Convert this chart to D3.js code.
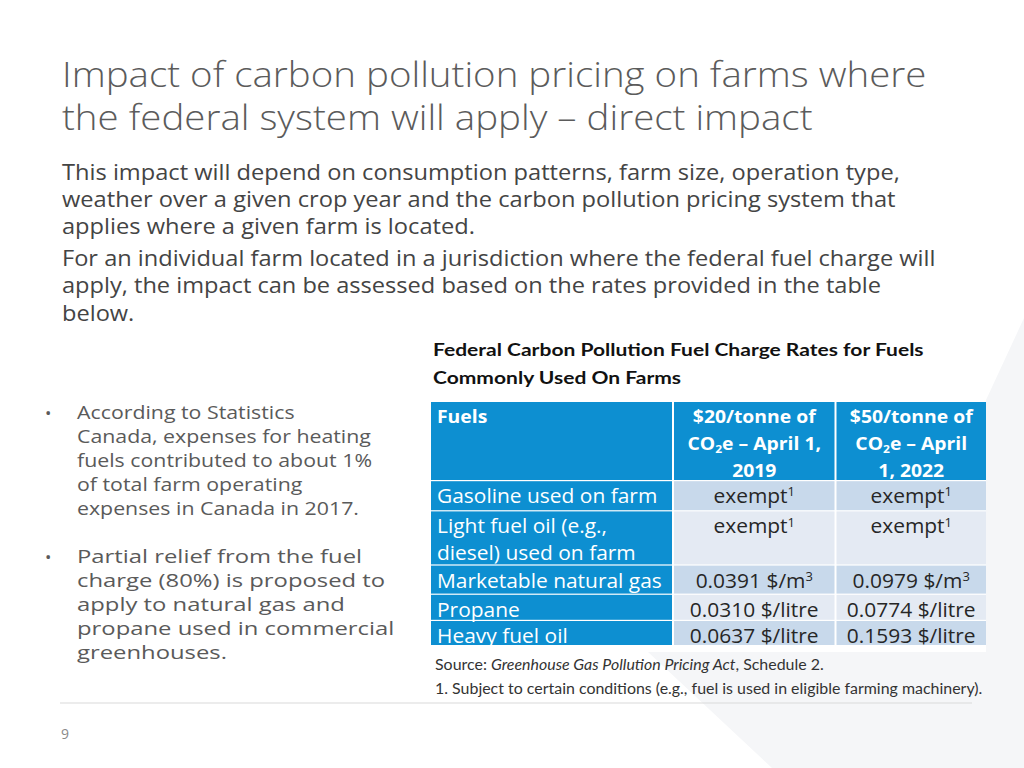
<!DOCTYPE html>
<html>
<head>
<meta charset="utf-8">
<script src="https://cdn.jsdelivr.net/npm/d3@7"></script>
<style>
  html, body { margin: 0; padding: 0; background: #fff; }
  svg { display: block; }
</style>
</head>
<body>
<svg id="slide" width="1024" height="768"></svg>
<script>
const svg = d3.select("#slide");

// ---- content ----
const titleLines = [
  "Impact of carbon pollution pricing on farms where",
  "the federal system will apply – direct impact"
];
const introLines = [
  "This impact will depend on consumption patterns, farm size, operation type,",
  "weather over a given crop year and the carbon pollution pricing system that",
  "applies where a given farm is located."
];
const introLines2 = [
  "For an individual farm located in a jurisdiction where the federal fuel charge will",
  "apply, the impact can be assessed based on the rates provided in the table",
  "below."
];
const captionLines = [
  "Federal Carbon Pollution Fuel Charge Rates for Fuels",
  "Commonly Used On Farms"
];
const bullets = [
  ["According to Statistics", "Canada, expenses for heating", "fuels contributed to about 1%",
   "of total farm operating", "expenses in Canada in 2017."],
  ["Partial relief from the fuel", "charge (80%) is proposed to", "apply to natural gas and",
   "propane used in commercial", "greenhouses."]
];
const headers = [
  ["Fuels"],
  ["$20/tonne of", "CO_2e – April 1,", "2019"],
  ["$50/tonne of", "CO_2e – April", "1, 2022"]
];
const fuels = [
  ["Gasoline used on farm"],
  ["Light fuel oil (e.g.,", "diesel) used on farm"],
  ["Marketable natural gas"],
  ["Propane"],
  ["Heavy fuel oil"]
];
const rates2019 = ["exempt^1", "exempt^1", "0.0391 $/m^3", "0.0310 $/litre", "0.0637 $/litre"];
const rates2022 = ["exempt^1", "exempt^1", "0.0979 $/m^3", "0.0774 $/litre", "0.1593 $/litre"];
const notes = [
  "Source: *Greenhouse Gas Pollution Pricing Act*, Schedule 2.",
  "1. Subject to certain conditions (e.g., fuel is used in eligible farming machinery)."
];
const pageNumber = "9";

// ---- style ----
const gothic = "'Open Sans', 'DejaVu Sans', sans-serif";
const calibri = "Lato, 'Liberation Sans', sans-serif";
const blue = "#0d8fd1";
const rowFills = ["#c8d9eb", "#e4eaf3"];

// rich text: _2 subscript, ^1 superscript, *...* italic
function rich(textSel, str, size) {
  const parts = str.split(/(_\d|\^\d|\*[^*]+\*)/).filter(s => s.length);
  parts.forEach(p => {
    if (p[0] === "_" || p[0] === "^") {
      textSel.append("tspan")
        .attr("font-size", size * 0.62)
        .attr("baseline-shift", p[0] === "_" ? "-22%" : "55%")
        .text(p.slice(1));
    } else if (p[0] === "*") {
      textSel.append("tspan").attr("font-style", "italic").text(p.slice(1, -1));
    } else {
      textSel.append("tspan").text(p);
    }
  });
}

// stretch a block horizontally so that one reference line spans the target width
function fitBlock(g, refNode, x0, targetWidth) {
  const w = refNode.getComputedTextLength();
  const sx = targetWidth / w;
  g.attr("transform", `translate(${x0},0) scale(${sx},1) translate(${-x0},0)`);
}

// ---- background shape ----
svg.append("polygon")
  .attr("points", [[1024, 318], [986, 400], [986, 652], [648, 652], [772, 768], [1024, 768]].join(" "))
  .attr("fill", "#f5f6f8");

// ---- title ----
const gTitle = svg.append("g");
const titleText = gTitle.selectAll("text").data(titleLines).join("text")
  .attr("x", 62).attr("y", (d, i) => 87 + i * 43)
  .attr("font-family", gothic).attr("font-weight", 300).attr("font-size", 35)
  .attr("fill", "#5b5b5b").text(d => d);
fitBlock(gTitle, titleText.nodes()[0], 62, 865);

// ---- intro ----
function paragraph(lines, y0, lh, size, color, x0, refIdx, refW, family) {
  const g = svg.append("g");
  const t = g.selectAll("text").data(lines).join("text")
    .attr("x", x0).attr("y", (d, i) => y0 + i * lh)
    .attr("font-family", family || gothic).attr("font-size", size)
    .attr("fill", color).text(d => d);
  fitBlock(g, t.nodes()[refIdx], x0, refW);
  return g;
}
paragraph(introLines, 180, 27, 21, "#444", 62, 0, 838);
paragraph(introLines2, 266, 27.5, 21, "#444", 62, 0, 874);

// ---- caption ----
const gCap = svg.append("g");
const capText = gCap.selectAll("text").data(captionLines).join("text")
  .attr("x", 433).attr("y", (d, i) => 356 + i * 28)
  .attr("font-family", calibri).attr("font-weight", 700).attr("font-size", 18)
  .attr("fill", "#111").text(d => d);
fitBlock(gCap, capText.nodes()[0], 433, 491);

// ---- bullets ----
const bulletRefs = [[1, 294], [2, 268]];
bullets.forEach((lines, b) => {
  const y0 = 419 + b * 144;
  svg.append("text").attr("x", 45).attr("y", y0)
    .attr("font-family", gothic).attr("font-size", 17).attr("fill", "#595959").text("•");
  paragraph(lines, y0, 24, 19, "#5a5a5a", 77, bulletRefs[b][0], bulletRefs[b][1]);
});

// ---- table ----
const rowH = [78, 29, 53, 28, 25, 24];
const tableTop = 402;
const rowTops = rowH.map((h, i) => tableTop + d3.sum(rowH.slice(0, i)) + i * 1.2);
const y = d3.scaleOrdinal().domain(d3.range(rowH.length)).range(rowTops);
const colEdges = [430, 673, 835.5, 987];
const x = d3.scaleOrdinal().domain([0, 1, 2]).range(colEdges.slice(0, 3));
const colW = i => colEdges[i + 1] - colEdges[i];

const cells = [];
headers.forEach((lines, c) => cells.push({ r: 0, c, lines, header: true }));
fuels.forEach((lines, r) => {
  cells.push({ r: r + 1, c: 0, lines, header: false });
  cells.push({ r: r + 1, c: 1, lines: [rates2019[r]], header: false });
  cells.push({ r: r + 1, c: 2, lines: [rates2022[r]], header: false });
});

const gTable = svg.append("g");
gTable.selectAll("rect").data(cells).join("rect")
  .attr("x", d => x(d.c) + 1)
  .attr("y", d => y(d.r))
  .attr("width", d => colW(d.c) - 2)
  .attr("height", d => rowH[d.r])
  .attr("fill", d => (d.header || d.c === 0) ? blue : rowFills[(d.r + 1) % 2]);

const gCellText = svg.append("g");
let refNode = null;
cells.forEach(d => {
  const size = d.header ? 18 : 19.5;
  const lh = 27;
  const baseY = d.header ? y(d.r) + 21 : y(d.r) + 22;
  d.lines.forEach((line, k) => {
    const cx = d.c === 0 ? x(d.c) + 7 : x(d.c) + colW(d.c) / 2;
    const t = gCellText.append("text")
      .attr("x", cx).attr("y", baseY + k * lh)
      .attr("text-anchor", d.c === 0 ? "start" : "middle")
      .attr("font-family", gothic)
      .attr("font-weight", d.header ? 700 : 400)
      .attr("font-size", size)
      .attr("fill", (d.header || d.c === 0) ? "#fff" : "#262626");
    rich(t, line, size);
    if (line === "Marketable natural gas") refNode = t.node();
  });
});
// horizontal stretch per text to match reference glyph widths
const sxTable = 225 / refNode.getComputedTextLength();
gCellText.selectAll("text").each(function () {
  const el = d3.select(this);
  const cx = +el.attr("x");
  el.attr("transform", `translate(${cx},0) scale(${sxTable},1) translate(${-cx},0)`);
});

// ---- notes ----
const gNotes = svg.append("g");
const noteText = gNotes.selectAll("text").data(notes).join("text")
  .attr("x", 435).attr("y", (d, i) => 670 + i * 24)
  .attr("font-family", calibri).attr("font-size", 15).attr("fill", "#333");
noteText.each(function (d) { rich(d3.select(this), d, 15); });
fitBlock(gNotes, noteText.nodes()[1], 435, 548);

// ---- footer ----
svg.append("line").attr("x1", 60).attr("x2", 972).attr("y1", 703).attr("y2", 703)
  .attr("stroke", "#d9d9d9").attr("stroke-width", 1.2);
svg.append("text").attr("x", 61).attr("y", 739)
  .attr("font-family", gothic).attr("font-size", 14).attr("fill", "#8a8a8a").text(pageNumber);
</script>
</body>
</html>
